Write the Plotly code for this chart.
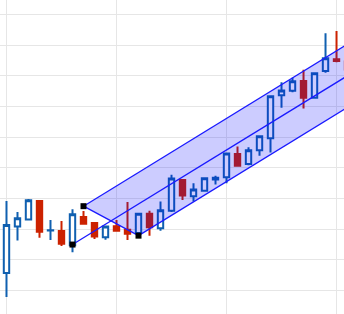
import plotly.graph_objects as go

# candle data (index, OHLC)
idx = list(range(32))
opens = [105.7, 120.9, 123.2, 129.2, 119.6, 119.4, 114.8, 124.0, 122.0, 117.4,
         121.0, 119.8, 118.8, 125.0, 120.3, 126.0, 136.0, 130.7, 132.5, 136.2,
         136.9, 144.5, 141.2, 145.7, 149.6, 163.6, 165.1, 168.3, 162.8, 171.5,
         175.4, 174.6]
highs = [129.2, 125.6, 129.8, 129.2, 123.0, 122.7, 126.5, 125.9, 122.0, 121.0,
         123.0, 128.9, 125.4, 126.0, 129.0, 137.7, 136.0, 135.0, 136.6, 137.4,
         144.7, 146.9, 146.7, 150.3, 163.3, 167.9, 169.3, 171.9, 170.8, 183.8,
         184.6, 175.5]
lows = [97.9, 116.3, 123.1, 117.2, 116.5, 114.5, 112.5, 121.5, 116.8, 116.6,
        119.2, 116.5, 117.1, 117.9, 119.5, 125.6, 129.5, 129.0, 132.2, 134.6,
        135.0, 140.6, 140.8, 143.9, 145.0, 159.6, 164.6, 159.3, 162.8, 171.0,
        174.4, 171.0]
closes = [121.4, 123.6, 129.4, 119.2, 119.65, 115.3, 124.9, 121.8, 117.6, 120.9,
          119.5, 118.5, 125.0, 120.6, 126.2, 136.5, 131.0, 132.9, 136.6, 136.8,
          144.7, 140.7, 145.7, 150.3, 163.3, 165.2, 168.2, 162.8, 170.8, 175.7,
          174.8, 172.0]

# channel anchor points: middle line start, upper-left corner, lower-left corner
chan_x = [6, 7, 12]
chan_y = [115.0, 127.5, 117.9]
chan_slope = 2.2      # price per bar
chan_end_x = 36

BLUE = "#1060b0"
RED = "#cc2200"

fig = go.Figure()
fig.add_trace(go.Candlestick(
    x=idx, open=opens, high=highs, low=lows, close=closes,
    increasing=dict(line=dict(color=BLUE, width=2), fillcolor="white"),
    decreasing=dict(line=dict(color=RED, width=2), fillcolor=RED),
    showlegend=False, hoverinfo="skip"))

def yline(x0, y0, x):
    return y0 + chan_slope * (x - x0)

ax, bx, cx = chan_x
ay, by, cy = chan_y
up_end = yline(bx, by, chan_end_x)
lo_end = yline(cx, cy, chan_end_x)
mid_end = yline(ax, ay, chan_end_x)

shapes = []
shapes.append(dict(type="path", xref="x", yref="y", layer="above",
                   path=f"M {bx},{by} L {cx},{cy} L {chan_end_x},{lo_end} L {chan_end_x},{up_end} Z",
                   fillcolor="rgba(0,0,255,0.2)", line=dict(width=0)))
line_style = dict(color="#1a1aff", width=1.3)
shapes.append(dict(type="line", xref="x", yref="y", layer="above",
                   x0=bx, y0=by, x1=chan_end_x, y1=up_end, line=line_style))
shapes.append(dict(type="line", xref="x", yref="y", layer="above",
                   x0=cx, y0=cy, x1=chan_end_x, y1=lo_end, line=line_style))
shapes.append(dict(type="line", xref="x", yref="y", layer="above",
                   x0=ax, y0=ay, x1=chan_end_x, y1=mid_end, line=line_style))
shapes.append(dict(type="line", xref="x", yref="y", layer="above",
                   x0=bx, y0=by, x1=cx, y1=cy, line=line_style))
for px_, py_ in zip(chan_x, chan_y):
    shapes.append(dict(type="rect", xref="x", yref="y", layer="above",
                       xsizemode="pixel", ysizemode="pixel",
                       xanchor=px_, yanchor=py_, x0=-3, x1=3, y0=-3, y1=3,
                       fillcolor="black", line=dict(width=0)))

fig.update_layout(
    width=344, height=314,
    margin=dict(l=0, r=0, t=0, b=0),
    paper_bgcolor="white", plot_bgcolor="white",
    shapes=shapes,
    xaxis=dict(range=[-0.59, 30.68], showticklabels=False, showgrid=True,
               gridcolor="#e6e6e6", gridwidth=1, dtick=10, tick0=0,
               zeroline=False, rangeslider=dict(visible=False), fixedrange=True),
    yaxis=dict(range=[92.38, 194.66], showticklabels=False, showgrid=True,
               gridcolor="#e6e6e6", gridwidth=1, dtick=10, tick0=0,
               zeroline=False, fixedrange=True),
)
fig.write_html("out.html", config={"displayModeBar": False})
